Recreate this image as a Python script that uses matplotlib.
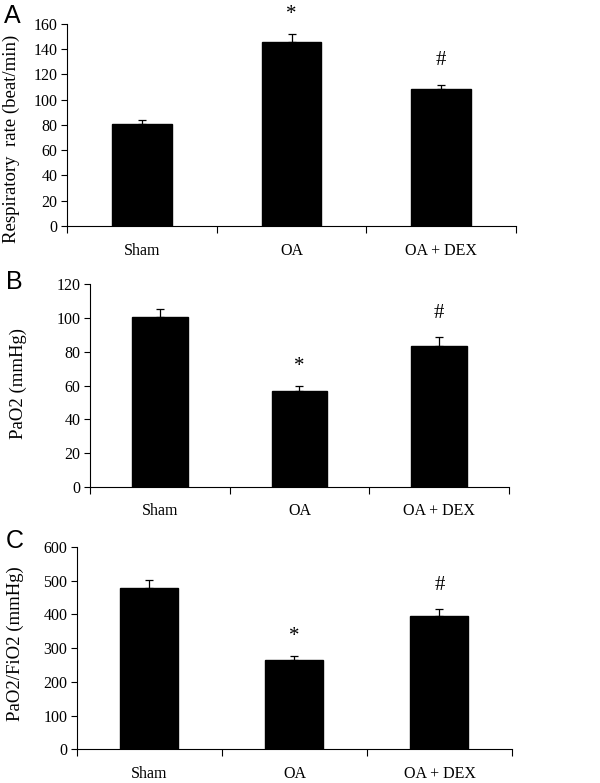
import matplotlib
matplotlib.use("Agg")
import matplotlib.pyplot as plt
import numpy as np

groups = ["Sham", "OA", "OA + DEX"]

resp_rate = [81, 146, 108.5]
resp_err = [3, 6, 3.5]

pao2 = [100.5, 56.5, 83.5]
pao2_err = [5, 3, 5]

ratio = [478, 266, 394]
ratio_err = [23, 11, 22]

marks = ["", "*", "#"]

serif = "Liberation Serif"


def draw_panel(fig, rect, values, errors, ylim, yticks, ylabel, label_xy, letter, letter_xy):
    ax = fig.add_axes(rect)
    x = np.arange(len(groups))
    ax.bar(x, values, width=0.4, color="black", edgecolor="black", zorder=2)
    ax.errorbar(x, values, yerr=[np.zeros(len(errors)), errors], fmt="none",
                ecolor="black", elinewidth=0.9, capsize=3, capthick=0.9, zorder=3)
    for xi, v, e, m in zip(x, values, errors, marks):
        if not m:
            continue
        off = 14 if m == "*" else 17
        ax.annotate(m, (xi, v + e), xytext=(0, off), textcoords="offset points",
                    ha="center", va="center", fontsize=15, family=serif,
                    annotation_clip=False)

    ax.set_xlim(-0.5, len(groups) - 0.5)
    ax.set_ylim(*ylim)
    ax.set_yticks(yticks)
    ax.set_yticklabels([str(t) for t in yticks], family=serif, fontsize=11.5)
    ax.set_xticks(x)
    ax.set_xticklabels(groups, family=serif, fontsize=11.5)
    ax.set_xticks(np.arange(-0.5, len(groups)), minor=True)
    ax.tick_params(axis="x", which="major", length=0, pad=12)
    ax.tick_params(axis="x", which="minor", length=5, width=0.8, direction="out")
    ax.tick_params(axis="y", length=4, width=0.8, direction="out", pad=3)
    for s in ["top", "right"]:
        ax.spines[s].set_visible(False)
    for s in ["left", "bottom"]:
        ax.spines[s].set_linewidth(0.8)
    ax.set_ylabel(ylabel, family=serif, fontsize=13.5)
    ax.yaxis.set_label_coords(*label_xy)
    fig.text(letter_xy[0], letter_xy[1], letter, family="Liberation Sans",
             fontsize=18, ha="left", va="center")
    return ax


fig = plt.figure(figsize=(6, 7.83), dpi=100)

draw_panel(fig, [0.1117, 0.7114, 0.7483, 0.258], resp_rate, resp_err,
           (0, 160), list(range(0, 161, 20)), "Respiratory  rate (beat/min)",
           (-0.105, 0.43), "A", (0.006, 1 - 16 / 783))
draw_panel(fig, [0.15, 0.3784, 0.6983, 0.2585], pao2, pao2_err,
           (0, 120), list(range(0, 121, 20)), "PaO2 (mmHg)",
           (-0.15, 0.51), "B", (0.01, 1 - 282 / 783))
draw_panel(fig, [0.1283, 0.043, 0.725, 0.2587], ratio, ratio_err,
           (0, 600), list(range(0, 601, 100)), "PaO2/FiO2 (mmHg)",
           (-0.122, 0.52), "C", (0.01, 1 - 541 / 783))

fig.savefig("out.png", dpi=100)
